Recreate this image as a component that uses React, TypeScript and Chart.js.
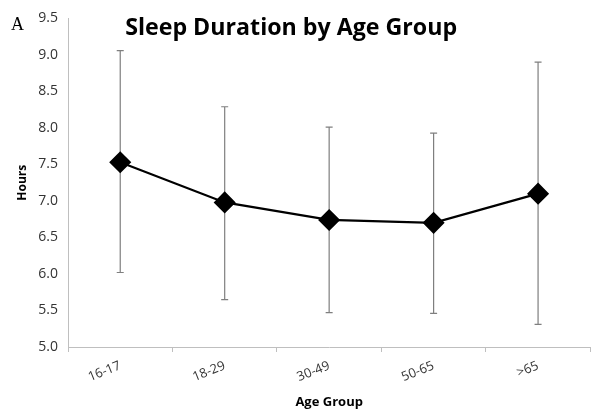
import React, { useEffect, useRef } from "react";
import { Chart, registerables } from "chart.js";

Chart.register(...registerables);

const categories = ["16-17", "18-29", "30-49", "50-65", ">65"];
const meanHours = [7.53, 6.98, 6.74, 6.7, 7.1];
const upperHours = [9.06, 8.29, 8.01, 7.93, 8.9];
const lowerHours = [6.02, 5.65, 5.47, 5.46, 5.31];
const yTicks = [5.0, 5.5, 6.0, 6.5, 7.0, 7.5, 8.0, 8.5, 9.0, 9.5];

const FONT = "'Open Sans', 'Liberation Sans', sans-serif";

const errorBarPlugin = {
  id: "errorBars",
  beforeDatasetsDraw(chart: any) {
    const ctx = chart.ctx;
    const x = chart.scales.x;
    const y = chart.scales.y;
    ctx.save();
    ctx.strokeStyle = "#7f7f7f";
    ctx.lineWidth = 1.2;
    categories.forEach((_, i) => {
      const px = x.getPixelForValue(i);
      const yt = y.getPixelForValue(upperHours[i]);
      const yb = y.getPixelForValue(lowerHours[i]);
      ctx.beginPath();
      ctx.moveTo(px, yt);
      ctx.lineTo(px, yb);
      ctx.moveTo(px - 3.5, yt);
      ctx.lineTo(px + 3.5, yt);
      ctx.moveTo(px - 3.5, yb);
      ctx.lineTo(px + 3.5, yb);
      ctx.stroke();
    });
    ctx.restore();
  },
};

const textPlugin = {
  id: "texts",
  afterDraw(chart: any) {
    const ctx = chart.ctx;
    const area = chart.chartArea;
    ctx.save();
    ctx.fillStyle = "#000";
    ctx.textAlign = "center";
    ctx.textBaseline = "middle";
    const title = "Sleep Duration by Age Group";
    let size = 22;
    ctx.font = `bold ${size}px ${FONT}`;
    const w = ctx.measureText(title).width;
    size = size * (332 / w);
    ctx.font = `bold ${size}px ${FONT}`;
    ctx.fillText(title, (area.left + area.right) / 2 - 38, area.top + 10);
    ctx.font = `18px 'Liberation Serif', 'DejaVu Serif', serif`;
    ctx.textAlign = "left";
    ctx.fillText("A", 11, area.top + 7);
    ctx.restore();
  },
};

export default function App() {
  const ref = useRef<HTMLCanvasElement | null>(null);
  useEffect(() => {
    document.body.style.margin = "0";
    const chart = new Chart(ref.current as HTMLCanvasElement, {
      type: "line",
      data: {
        labels: categories,
        datasets: [
          {
            data: meanHours,
            borderColor: "#000",
            backgroundColor: "#000",
            borderWidth: 2.2,
            pointStyle: "rectRot",
            pointRadius: 9.5,
            pointBackgroundColor: "#000",
            pointBorderColor: "#000",
            tension: 0,
          },
        ],
      },
      options: {
        responsive: false,
        animation: false,
        layout: { padding: { top: 15, right: 10, left: 0, bottom: 0 } },
        plugins: { legend: { display: false }, tooltip: { enabled: false }, title: { display: false } },
        scales: {
          x: {
            type: "category",
            offset: true,
            grid: { display: true, drawOnChartArea: false, drawTicks: true, tickLength: 5, color: "#bfbfbf", offset: true },
            border: { color: "#bfbfbf", width: 1 },
            ticks: {
              color: "#333333",
              font: { family: FONT, size: 13 },
              minRotation: 22,
              maxRotation: 22,
              padding: 6,
            },
            title: {
              display: true,
              text: "Age Group",
              color: "#000",
              font: { family: FONT, size: 13, weight: "bold" },
              padding: 8,
            },
            afterFit(scale: any) {
              scale.height = 71;
            },
          },
          y: {
            min: 5,
            max: 9.5,
            afterBuildTicks(scale: any) {
              scale.ticks = yTicks.map((v) => ({ value: v }));
            },
            grid: { display: true, drawOnChartArea: false, drawTicks: false, color: "#bfbfbf" },
            border: { color: "#bfbfbf", width: 1 },
            ticks: {
              color: "#333333",
              font: { family: FONT, size: 14 },
              padding: 10,
              callback: (v: any) => Number(v).toFixed(1),
            },
            title: {
              display: true,
              text: "Hours",
              color: "#000",
              font: { family: FONT, size: 12, weight: "bold" },
              padding: 15,
            },
            afterFit(scale: any) {
              scale.width = 68;
            },
          },
        },
      },
      plugins: [errorBarPlugin, textPlugin],
    } as any);
    return () => chart.destroy();
  }, []);
  return (
    <div style={{ position: "absolute", left: 0, top: 0, width: 602, height: 418, background: "#fff" }}>
      <canvas ref={ref} width={602} height={418} />
    </div>
  );
}
